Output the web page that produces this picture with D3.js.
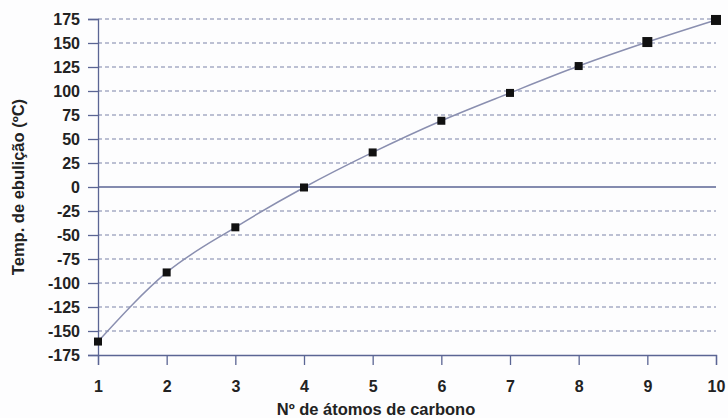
<!DOCTYPE html>
<html>
<head>
<meta charset="utf-8">
<script src="https://cdn.jsdelivr.net/npm/d3@7"></script>
<style>
  body { margin: 0; background: #fff; }
  text { font-family: "Liberation Sans", Arial, sans-serif; }
</style>
</head>
<body>
<script>
// número de átomos de carbono e temperatura de ebulição (ºC)
const carbonos = [1, 2, 3, 4, 5, 6, 7, 8, 9, 10]
const tempEbulicao = [-161, -89, -42, -0.5, 36, 69, 98, 126, 151, 174]
const yTicks = [175, 150, 125, 100, 75, 50, 25, 0, -25, -50, -75, -100, -125, -150, -175]

const svgwidth = 728
const svgheight = 418
const margin = { left: 98, right: 12, top: 19, bottom: 63 }

const x = d3.scaleLinear().domain([1, 10]).range([margin.left, svgwidth - margin.right])
const y = d3.scaleLinear().domain([-175, 175]).range([svgheight - margin.bottom, margin.top])

const axisColor = '#5b6594'
const fonte = '"Liberation Sans", Arial, sans-serif'

let svg = d3.select(document.body)
  .append('svg')
    .attr('width', svgwidth)
    .attr('height', svgheight)

svg.append('rect')
  .attr('width', svgwidth)
  .attr('height', svgheight)
  .attr('fill', '#fdfdfe')

// gridlines tracejadas
svg.append('g')
  .selectAll('line')
  .data(yTicks.filter(d => d !== 0 && d !== -175))
  .join('line')
    .attr('x1', x(1))
    .attr('x2', x(10))
    .attr('y1', d => y(d))
    .attr('y2', d => y(d))
    .attr('stroke', '#7d84a8')
    .attr('stroke-width', 1.2)
    .attr('stroke-dasharray', '4 3')

// linha do zero
svg.append('line')
  .attr('x1', x(1)).attr('x2', x(10))
  .attr('y1', y(0)).attr('y2', y(0))
  .attr('stroke', axisColor)
  .attr('stroke-width', 1.3)

// eixo y (hífen normal nos negativos)
const yAxis = svg.append('g')
  .attr('transform', `translate(${x(1)},0)`)
  .call(d3.axisLeft(y).tickValues(yTicks).tickSize(10).tickPadding(8).tickFormat(d => String(d)))
yAxis.select('.domain').attr('stroke', axisColor).attr('stroke-width', 1.3)
yAxis.selectAll('.tick line').attr('stroke', axisColor).attr('stroke-width', 1.3)
yAxis.selectAll('.tick text')
  .attr('fill', '#222')
  .attr('font-size', 16)
  .attr('font-weight', 'bold')
  .attr('font-family', fonte)

// eixo x
const xAxis = svg.append('g')
  .attr('transform', `translate(0,${y(-175)})`)
  .call(d3.axisBottom(x).tickValues(carbonos).tickSize(10).tickPadding(16).tickFormat(d => String(d)))
xAxis.select('.domain').attr('stroke', axisColor).attr('stroke-width', 1.3)
xAxis.selectAll('.tick line').attr('stroke', axisColor).attr('stroke-width', 1.3)
xAxis.selectAll('.tick text')
  .attr('fill', '#222')
  .attr('font-size', 16)
  .attr('font-weight', 'bold')
  .attr('font-family', fonte)

// curva
const pontos = carbonos.map((c, i) => [c, tempEbulicao[i]])
svg.append('path')
  .datum(pontos)
  .attr('fill', 'none')
  .attr('stroke', '#8a8fb0')
  .attr('stroke-width', 1.5)
  .attr('d', d3.line().x(d => x(d[0])).y(d => y(d[1])).curve(d3.curveMonotoneX))

// marcadores
svg.append('g')
  .selectAll('rect')
  .data(pontos)
  .join('rect')
    .attr('x', d => x(d[0]) - (d[0] >= 9 ? 5 : 4))
    .attr('y', d => y(d[1]) - (d[0] >= 9 ? 5 : 4))
    .attr('width', d => d[0] >= 9 ? 10 : 8)
    .attr('height', d => d[0] >= 9 ? 10 : 8)
    .attr('fill', '#111')

// títulos
svg.append('text')
  .attr('x', 376)
  .attr('y', 415)
  .attr('text-anchor', 'middle')
  .attr('font-size', 16.5)
  .attr('font-weight', 'bold')
  .attr('fill', '#222')
  .text('Nº de átomos de carbono')

svg.append('text')
  .attr('transform', `translate(24,${y(0)}) rotate(-90)`)
  .attr('text-anchor', 'middle')
  .attr('font-size', 16.5)
  .attr('font-weight', 'bold')
  .attr('fill', '#222')
  .text('Temp. de ebulição (ºC)')
</script>
</body>
</html>
